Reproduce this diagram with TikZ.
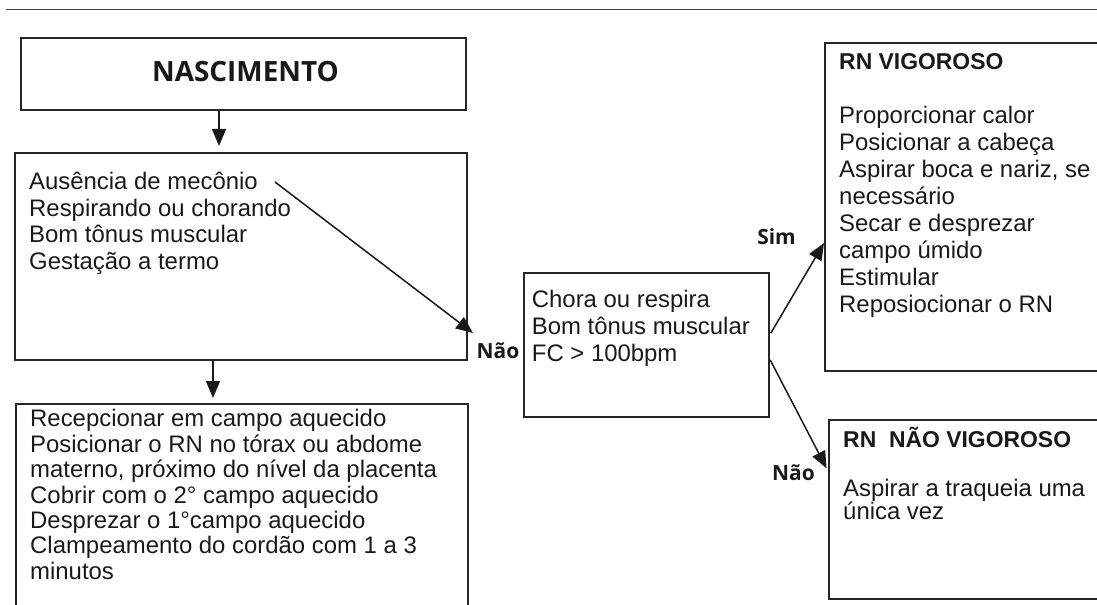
\documentclass[tikz,border=0pt]{standalone}
\usepackage{fontspec}
\setmainfont{Liberation Sans}
\newfontfamily\lblfont{Open Sans}
\usetikzlibrary{arrows.meta,calc}
\newcommand\txtblock[2]{\parbox[t]{25cm}{\fontsize{24}{#1}\selectfont\raggedright #2}}
\tikzset{
  box/.style={draw=black!85, line width=1.7bp, rectangle, inner sep=0pt, anchor=north west},
  txt/.style={inner sep=0pt, anchor=base west, text=black!90},
  arr/.style={draw=black!90, line width=1.5bp, -{Triangle[length=17bp,width=14bp]}},
  lbl/.style={font=\lblfont\bfseries\fontsize{21}{24}\selectfont, inner sep=0pt, text=black!90},
}
\begin{document}
\begin{tikzpicture}[x=1bp,y=-1bp]
\useasboundingbox (0,0) rectangle (1097,605);
\clip (0,0) rectangle (1097,605);
% top rule
\coordinate (r0) at (6,9.5);
\coordinate (r1) at (1100,9.5);
\draw[black!75, line width=1.2bp] (r0) -- (r1);
% boxes
\node[box, minimum width=445bp, minimum height=72bp] (nasc) at (20,37) {};
\node[box, minimum width=452bp, minimum height=207bp] (box2) at (14,152) {};
\node[box, minimum width=452bp, minimum height=240bp] (box3) at (15,403) {};
\node[box, minimum width=245bp, minimum height=144bp] (mid) at (523,272) {};
\node[box, minimum width=300bp, minimum height=328bp] (vig) at (824,42) {};
\node[box, minimum width=300bp, minimum height=179bp] (nvig) at (828,419) {};
% texts
\node[font=\lblfont\bfseries\fontsize{28}{32}\selectfont, inner sep=0pt, text=black!90] (nasctxt) at (245.5,72) {NASCIMENTO};
\node[txt] (t2) at (29,190) {\txtblock{26.5}{Ausência de mecônio\\Respirando ou chorando\\Bom tônus muscular\\Gestação a termo}};
\node[txt] (t3) at (30,426.7) {\txtblock{25.55}{Recepcionar em campo aquecido\\Posicionar o RN no tórax ou abdome\\materno, próximo do nível da placenta\\Cobrir com o 2° campo aquecido\\Desprezar o 1°campo aquecido\\Clampeamento do cordão com 1 a 3\\minutos}};
\node[txt] (tm) at (531.7,307.7) {\txtblock{27}{Chora ou respira\\Bom tônus muscular\\FC > 100bpm}};
\node[txt, font=\bfseries\fontsize{23}{27}\selectfont] (vigt) at (839,70) {RN VIGOROSO};
\node[txt] (vigl) at (839,123.3) {\txtblock{27.1}{Proporcionar calor\\Posicionar a cabeça\\Aspirar boca e nariz, se\\necessário\\Secar e desprezar\\campo úmido\\Estimular\\Reposiocionar o RN}};
\node[txt, font=\bfseries\fontsize{23}{27}\selectfont] (nvigt) at (843,447.7) {RN\ \ NÃO VIGOROSO};
\node[txt] (nvigl) at (843,496.5) {\txtblock{23.5}{Aspirar a traqueia uma\\única vez}};
% labels
\node[lbl] (nao1) at (498,351) {Não};
\node[lbl] (sim) at (776.5,237) {Sim};
\node[lbl] (nao2) at (793.5,473) {Não};
% connectors
\coordinate (a1) at (219,0);
\coordinate (a2) at (213,0);
\draw[arr, shorten >=6bp] (nasc.south -| a1) -- (box2.north -| a1);
\draw[arr, shorten >=5bp] (box2.south -| a2) -- (box3.north -| a2);
\coordinate (d1) at (275,182);
\coordinate (d2) at (473,333);
\draw[arr] (d1) -- (d2);
\coordinate (s0) at (0,335);
\coordinate (s1) at (0,243);
\coordinate (n0) at (0,359);
\coordinate (n1) at (0,471);
\draw[arr, shorten <=2bp] (mid.east |- s0) -- (vig.west |- s1);
\draw[arr, shorten <=1bp, shorten >=3bp] (mid.east |- n0) -- (nvig.west |- n1);
\end{tikzpicture}
\end{document}
